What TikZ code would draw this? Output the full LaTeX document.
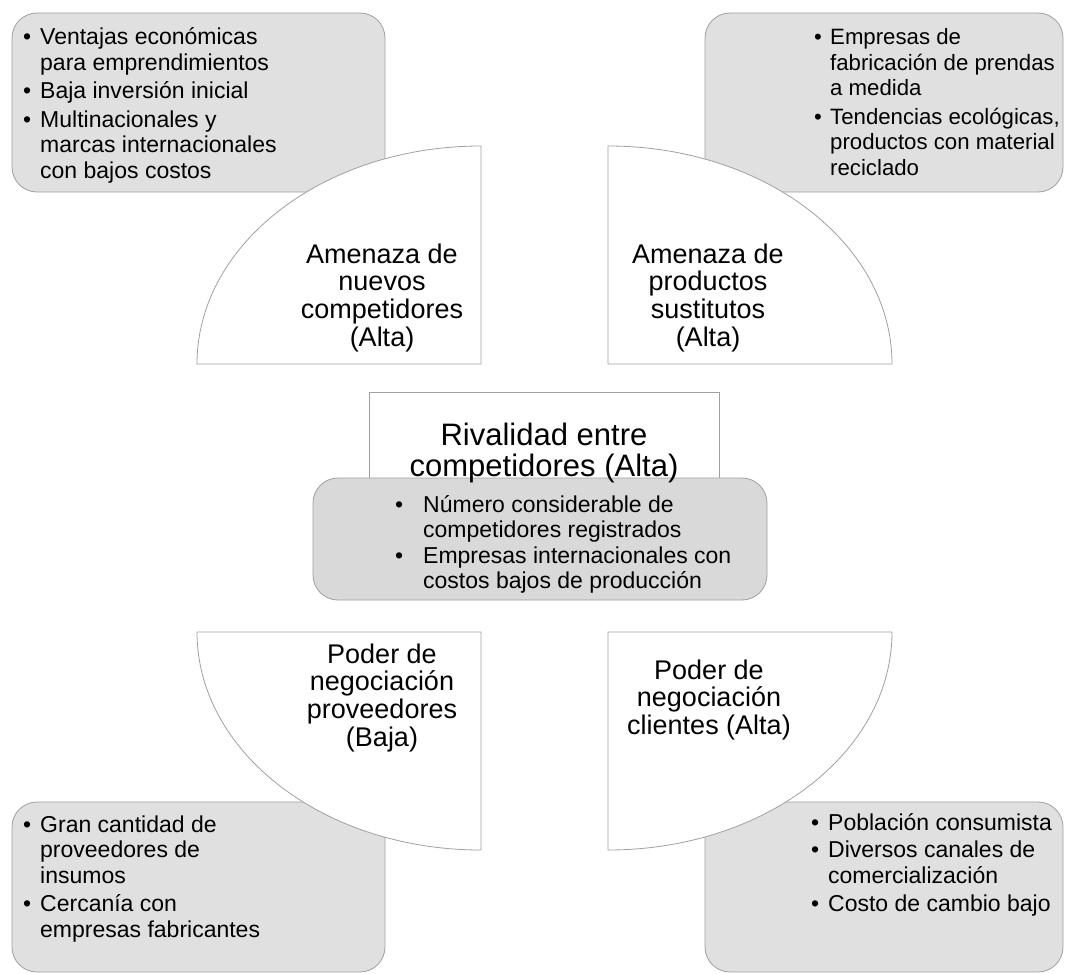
\documentclass[tikz,border=0pt]{standalone}
\usepackage{fontspec}
\setmainfont{Liberation Sans}
\definecolor{boxgray}{RGB}{224,224,224}
\definecolor{midgray}{RGB}{217,217,217}
\definecolor{edgegray}{RGB}{160,160,160}
\newlength{\mybw}
\newcommand\mybul{\makebox[\mybw][l]{\textbullet}}
\newcommand\myind{\hspace*{\mybw}}
\begin{document}
\begin{tikzpicture}[x=1pt,y=-1pt,
  gbox/.style={draw=edgegray,fill=boxgray,line width=0.8pt,rounded corners=25pt},
  cbox/.style={draw=edgegray,fill=midgray,line width=0.8pt,rounded corners=25pt},
  pie/.style={draw=edgegray,fill=white,line width=0.8pt},
  listtxt/.style={inner sep=0pt,anchor=base west,font=\fontsize{23}{25.5}\selectfont},
  titletxt/.style={inner sep=0pt,anchor=base,font=\fontsize{27}{27.8}\selectfont},
  bigtitle/.style={inner sep=0pt,anchor=base,font=\fontsize{31}{31.5}\selectfont}]
\useasboundingbox (0,0) rectangle (1065,974);
% corner boxes
\draw[gbox] (12,13) rectangle (385,192);
\draw[gbox] (705,13) rectangle (1063,192);
\draw[gbox] (12,802) rectangle (385,972);
\draw[gbox] (705,802) rectangle (1063,972);
% quarter shapes
\draw[pie] (481,364) -- (197,364) arc[start angle=180,end angle=90,x radius=284pt,y radius=218pt] -- cycle;
\draw[pie] (608,364) -- (608,146) arc[start angle=90,end angle=0,x radius=284pt,y radius=218pt] -- cycle;
\draw[pie] (481,632) -- (197,632) arc[start angle=180,end angle=270,x radius=284pt,y radius=218pt] -- cycle;
\draw[pie] (608,632) -- (608,850) arc[start angle=270,end angle=360,x radius=284pt,y radius=218pt] -- cycle;
% center
\draw[pie] (369,392) rectangle (719,490);
\draw[cbox] (313,478) rectangle (767,600);
% titles
\node[titletxt] (tnew) at (382,263) {\parbox[t]{260pt}{\centering Amenaza de\\nuevos\\competidores\\(Alta)}};
\node[titletxt] (tsub) at (708,263) {\parbox[t]{260pt}{\centering Amenaza de\\productos\\sustitutos\\(Alta)}};
\node[titletxt] (tprov) at (382,663) {\parbox[t]{260pt}{\centering Poder de\\negociación\\proveedores\\(Baja)}};
\node[titletxt] (tcli) at (709,679) {\parbox[t]{260pt}{\centering Poder de\\negociación\\clientes (Alta)}};
\node[bigtitle] (triv) at (544,445) {\parbox[t]{340pt}{\centering Rivalidad entre\\competidores (Alta)}};
% lists
\setlength{\mybw}{17pt}
\node[listtxt] (lnew) at (23,45) {\parbox[t]{400pt}{\mybul Ventajas económicas\\\myind para emprendimientos\\[3pt]\mybul Baja inversión inicial\\[3pt]\mybul Multinacionales y\\\myind marcas internacionales\\\myind con bajos costos}};
\node[listtxt,font=\fontsize{22.2}{25.5}\selectfont] (lsub) at (814,45) {\parbox[t]{400pt}{\setlength{\mybw}{16pt}\mybul Empresas de\\\myind fabricación de prendas\\\myind a medida\\[3pt]\mybul Tendencias ecológicas,\\\myind productos con material\\\myind reciclado}};
\node[listtxt] (lprov) at (23,832) {\parbox[t]{400pt}{\mybul Gran cantidad de\\\myind proveedores de\\\myind insumos\\[3pt]\mybul Cercanía con\\\myind empresas fabricantes}};
\node[listtxt] (lcli) at (811,830) {\parbox[t]{400pt}{\mybul Población consumista\\[2pt]\mybul Diversos canales de\\\myind comercialización\\[3pt]\mybul Costo de cambio bajo}};
\node[listtxt] (lriv) at (395,512) {\parbox[t]{420pt}{\setlength{\mybw}{28pt}\mybul Número considerable de\\\myind competidores registrados\\\mybul Empresas internacionales con\\\myind costos bajos de producción}};
\end{tikzpicture}
\end{document}
